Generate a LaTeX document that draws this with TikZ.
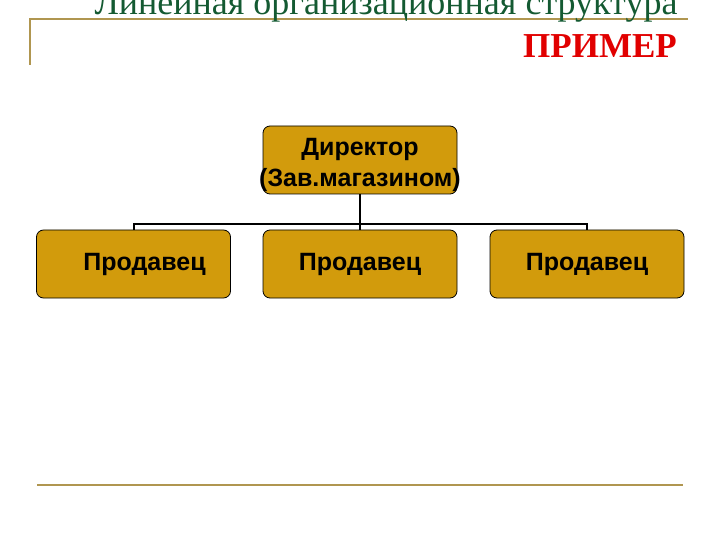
\documentclass[tikz,border=0pt]{standalone}
\usepackage{fontspec}
\setmainfont{Liberation Serif}
\newfontfamily\boxfont{Liberation Sans}
\definecolor{gold}{RGB}{210,155,12}
\definecolor{rule}{RGB}{176,150,80}
\definecolor{titlegreen}{RGB}{20,90,50}
\definecolor{titlered}{RGB}{225,0,0}
\tikzset{
  orgbox/.style={draw=black, line width=0.8pt, fill=gold, rounded corners=7pt,
    minimum width=194pt, minimum height=68pt, inner sep=0pt},
  boxtext/.style={align=center, inner sep=0pt,
    font=\boxfont\bfseries\fontsize{25}{31}\selectfont},
  link/.style={draw=black, line width=2pt},
  frame/.style={draw=rule, line width=2.6pt}
}
\begin{document}
\begin{tikzpicture}[x=1pt,y=-1pt]
\useasboundingbox (0,0) rectangle (720,540);
% frame lines
\coordinate (fa) at (30,65);
\coordinate (fb) at (30,19);
\coordinate (fc) at (688,19);
\draw[frame] (fa) -- (fb) -- (fc);
\coordinate (ba) at (37,485);
\coordinate (bb) at (683,485);
\draw[frame] (ba) -- (bb);
% titles
\node[anchor=base, text=titlegreen, font=\fontsize{36}{40}\selectfont, inner sep=0pt] (title) at (386,15) {Линейная организационная структура};
\node[anchor=base east, text=titlered, font=\bfseries\fontsize{35}{40}\selectfont, inner sep=0pt] (ex) at (677,58) {ПРИМЕР};
% boxes
\node[orgbox] (dir) at (360,160) {};
\node[orgbox] (s1) at (133.5,264) {};
\node[orgbox] (s2) at (360,264) {};
\node[orgbox] (s3) at (587,264) {};
\node[boxtext] (t0) at ([yshift=-5pt]dir.center) {Директор\\(Зав.магазином)};
\node[boxtext] (t1) at ([xshift=11pt]s1.center) {Продавец};
\node[boxtext] (t2) at (s2.center) {Продавец};
\node[boxtext] (t3) at (s3.center) {Продавец};
% connectors
\coordinate (j) at (360,224);
\draw[link] (dir.south) -- (s2.north);
\draw[link] (s1.north) -- (s1.north |- j) -- (s3.north |- j) -- (s3.north);
\end{tikzpicture}
\end{document}
